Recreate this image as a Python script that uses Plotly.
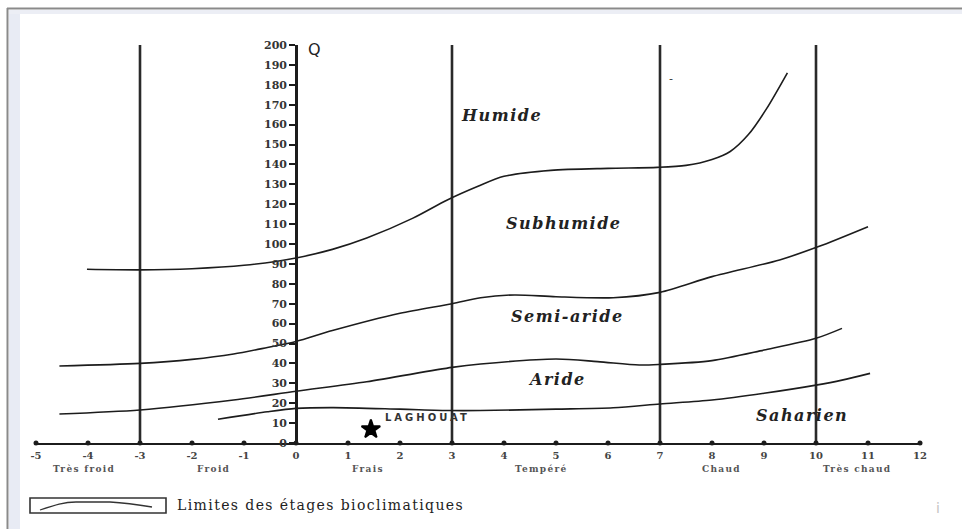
import plotly.graph_objects as go

# ---------------- data ----------------
x_ticks = list(range(-5, 13))
q_ticks = list(range(0, 201, 10))

zone_bounds = [-3, 3, 7, 10]          # vertical limits of thermal variants

# bioclimatic limit curves
c1_x = [-4.02, -3, -2, -1.0, 0, 0.7, 1.36, 2.25, 2.9, 3.5, 4.0, 4.9, 6.0, 6.95, 7.5, 8.0, 8.35, 8.7, 9.05, 9.45]
c1_q = [87.3, 87, 87.6, 89.3, 93, 97.3, 103, 113, 122, 129, 134, 137, 138, 138.5, 139.5, 142.5, 146.5, 155, 168, 186]

c2_x = [-4.55, -3, -2, -1.2, -0.55, 0, 0.7, 2.0, 3.0, 3.55, 4.2, 5.0, 6.1, 7.0, 8.0, 9.3, 10.05, 11.0]
c2_q = [38.7, 40, 42, 44.7, 48, 51, 56.5, 65.2, 70, 73, 74.4, 73.5, 73, 75.7, 83.6, 92, 98.7, 108.7]

c3_x = [-4.55, -3, -1.2, 0, 1.36, 3.0, 3.55, 5.0, 5.8, 6.6, 7.0, 8.0, 9.0, 10.0, 10.5]
c3_q = [14.6, 16.6, 21.6, 26, 30.8, 38, 39.7, 42.2, 40.9, 39.2, 39.5, 41.4, 46.7, 52.6, 57.6]

c4_x = [-1.5, -0.55, 0, 0.72, 2.0, 2.96, 3.54, 5.0, 6.1, 7.0, 8.0, 9.0, 10.0, 10.5, 11.04]
c4_q = [11.9, 15.7, 17.4, 17.8, 17.0, 16.3, 16.3, 17.0, 17.7, 19.6, 21.6, 25, 29.1, 31.6, 35]

curves = [(c1_x, c1_q), (c2_x, c2_q), (c3_x, c3_q), (c4_x, c4_q)]

stage_names = ["Humide", "Subhumide", "Semi-aride", "Aride", "Saharien"]
stage_x = [3.96, 5.16, 5.23, 5.01, 9.73]
stage_q = [164.8, 110.5, 63.5, 31.7, 14]

thermal_names = ["Très froid", "Froid", "Frais", "Tempéré", "Chaud", "Très chaud"]
thermal_x = [-4.08, -1.58, 1.38, 4.72, 8.19, 10.78]

station_name = ["LAGHOUAT"]
station_x = [1.44]
station_q = [6.9]

legend_text = "Limites des étages bioclimatiques"

# ---------------- layout geometry ----------------
W, H = 962, 529
ML, MR, MT, MB = 36, 42, 45, 86
PW, PH = W - ML - MR, H - MT - MB
XR = [-5, 12]
YR = [0, 200]


def px(x):
    return (x - ML) / PW


def py(y):
    return (H - MB - y) / PH


INK = "#1c1c1c"
fig = go.Figure()

# vertical limits
vx, vy = [], []
for b in zone_bounds:
    vx += [b, b, None]
    vy += [YR[0], YR[1], None]
fig.add_trace(go.Scatter(x=vx, y=vy, mode="lines", line=dict(color="#2a2a2a", width=2.6),
                         hoverinfo="skip", showlegend=False))

# curves
for cx, cq in curves:
    fig.add_trace(go.Scatter(x=cx, y=cq, mode="lines", line=dict(color=INK, width=1.6, shape="spline", smoothing=0.8),
                             showlegend=False, name=legend_text))

# x-axis dots
fig.add_trace(go.Scatter(x=x_ticks, y=[0] * len(x_ticks), mode="markers", cliponaxis=False,
                         marker=dict(color=INK, size=5), hoverinfo="skip", showlegend=False))

# station
fig.add_trace(go.Scatter(x=station_x, y=station_q, mode="markers", cliponaxis=False,
                         marker=dict(symbol="star", color="black", size=14, line=dict(color="black", width=2)),
                         showlegend=False, name=station_name[0]))

annotations = []
for n, x, q in zip(stage_names, stage_x, stage_q):
    annotations.append(dict(x=x, y=q, xref="x", yref="y", showarrow=False,
                            xanchor="center", yanchor="middle",
                            text=f'<b><i><span style="letter-spacing:1.5px">{n}</span></i></b>',
                            font=dict(family="DejaVu Serif", size=16, color="#222")))
for n, x in zip(thermal_names, thermal_x):
    annotations.append(dict(x=x, y=py(469), xref="x", yref="paper", showarrow=False,
                            xanchor="center", yanchor="middle",
                            text=f'<b><span style="letter-spacing:1.3px">{n}</span></b>',
                            font=dict(family="DejaVu Serif", size=9, color="#555")))
annotations.append(dict(x=1.67, y=13.0, xref="x", yref="y", showarrow=False, xanchor="left", yanchor="middle",
                        text=f'<b><span style="letter-spacing:3px">{station_name[0]}</span></b>',
                        font=dict(family="DejaVu Sans", size=10, color="#333")))
annotations.append(dict(x=0.2, y=197.5, xref="x", yref="y", showarrow=False, xanchor="left", yanchor="middle",
                        text="Q", font=dict(family="DejaVu Sans", size=16, color="#222")))
annotations.append(dict(x=7.21, y=183, xref="x", yref="y", showarrow=False, xanchor="center", yanchor="middle",
                        text="-", font=dict(family="DejaVu Sans", size=11, color="#333")))
annotations.append(dict(x=px(175), y=py(505), xref="paper", yref="paper", showarrow=False,
                        xanchor="left", yanchor="middle",
                        text=f'<span style="letter-spacing:1.4px">{legend_text}</span>',
                        font=dict(family="DejaVu Serif", size=14, color="#222")))
annotations.append(dict(x=px(938), y=py(508), xref="paper", yref="paper", showarrow=False,
                        xanchor="center", yanchor="middle",
                        text="i", font=dict(family="DejaVu Sans", size=14, color="#c4c4c4")))

# frame & legend decoration shapes (paper coordinates)
shapes = [
    dict(type="rect", xref="paper", yref="paper", x0=px(9), x1=px(20), y0=py(529), y1=py(10),
         fillcolor="#e8ebf4", line=dict(width=0), layer="below"),
    dict(type="rect", xref="paper", yref="paper", x0=px(9), x1=px(962), y0=py(14), y1=py(10),
         fillcolor="#eceef5", line=dict(width=0), layer="below"),
    dict(type="line", xref="paper", yref="paper", x0=px(7), x1=px(962), y0=py(8.5), y1=py(8.5),
         line=dict(color="#8a8a8a", width=2)),
    dict(type="line", xref="paper", yref="paper", x0=px(7.5), x1=px(7.5), y0=py(8), y1=py(529),
         line=dict(color="#8a8a8a", width=2)),
    dict(type="rect", xref="paper", yref="paper", x0=px(30), x1=px(166), y0=py(513), y1=py(498),
         line=dict(color="#333", width=1.6)),
    dict(type="path", xref="paper", yref="paper",
         path=(f"M {px(40)} {py(510)} C {px(55)} {py(505)}, {px(64)} {py(502)}, {px(76)} {py(502)} "
               f"L {px(110)} {py(502)} C {px(128)} {py(503)}, {px(140)} {py(505)}, {px(152)} {py(507)}"),
         line=dict(color="#333", width=1.3)),
]

fig.update_layout(
    width=W, height=H,
    margin=dict(l=ML, r=MR, t=MT, b=MB, pad=0),
    paper_bgcolor="white", plot_bgcolor="white",
    showlegend=False,
    annotations=annotations, shapes=shapes,
    xaxis=dict(range=XR, tickvals=x_ticks, ticktext=[str(v) for v in x_ticks],
               showgrid=False, zeroline=False, showline=True, linecolor=INK, linewidth=2,
               ticks="", ticklabelstandoff=2,
               tickfont=dict(family="DejaVu Serif", size=10, color="#444", weight="bold")),
    yaxis=dict(range=YR, tickvals=q_ticks, anchor="free", position=(0 - XR[0]) / (XR[1] - XR[0]),
               showgrid=False, zeroline=False, showline=True, linecolor=INK, linewidth=2.6,
               ticks="outside", ticklen=6, tickwidth=2, tickcolor=INK,
               tickfont=dict(family="DejaVu Serif", size=11, color="#333", weight="bold")),
)

fig.write_html("out.html")
